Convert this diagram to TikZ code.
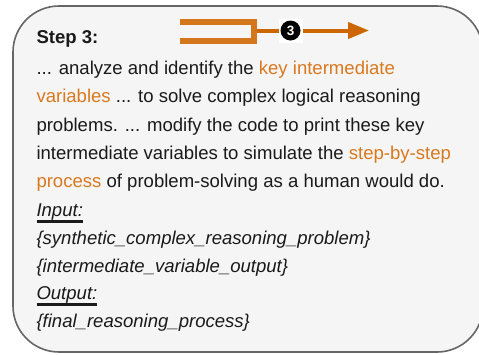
\documentclass[tikz,border=0pt]{standalone}
\usepackage{fontspec}
\setmainfont{Liberation Sans}
\usetikzlibrary{arrows.meta}
\definecolor{boxfill}{HTML}{F5F5F5}
\definecolor{boxline}{HTML}{666666}
\definecolor{arrowc}{HTML}{CC6600}
\definecolor{bracketc}{HTML}{D4761C}
\definecolor{hl}{HTML}{D9791E}
\definecolor{txt}{HTML}{1A1A1A}
\newcommand{\hlt}[1]{\textcolor{hl}{#1}}
\begin{document}
\begin{tikzpicture}[x=1bp,y=-1bp,
  txtline/.style={anchor=base west, inner sep=0pt, outer sep=0pt, text=txt,
    font=\fontsize{18.55bp}{28bp}\selectfont},
  itline/.style={txtline, font=\fontsize{18.55bp}{28bp}\selectfont\itshape},
  uline/.style={txt, line width=2.8bp},
  panel/.style={fill=boxfill, draw=boxline, line width=1.6bp, rounded corners=46bp}]
\useasboundingbox (0,0) rectangle (479,354);
\clip (0,0) rectangle (479,354);
\draw[panel] (13,6) rectangle (483,352);
% bracket and arrow
\draw[bracketc, line width=6bp, miter limit=10] (180,21.5) -- (254,21.5) -- (254,41) -- (180,41);
\coordinate (bra) at (257,30.5);
\coordinate (tip) at (369,30.5);
\draw[arrowc, line width=4bp, -{Triangle[length=21bp,width=16bp]}] (bra) -- (tip);
\node[fill=white, minimum size=24bp, inner sep=0pt] (lab) at (290.5,30.5) {};
\node[circle, fill=black, text=white, minimum size=20bp, inner sep=0pt,
  font=\bfseries\fontsize{13.5bp}{13.5bp}\selectfont] (num) at (lab) {3};
% text
\node[txtline, font=\fontsize{18.55bp}{28bp}\selectfont\bfseries] (title) at (36.5,43) {Step 3:};
\node[txtline] (l1) at (36.5,74) {... analyze and identify the \hlt{key intermediate}};
\node[txtline] (l2) at (36.5,102.5) {\hlt{variables} ... to solve complex logical reasoning};
\node[txtline] (l3) at (36.5,131) {problems. ... modify the code to print these key};
\node[txtline] (l4) at (36.5,159.5) {intermediate variables to simulate the \hlt{step-by-step}};
\node[txtline] (l5) at (36.5,187.5) {\hlt{process} of problem-solving as a human would do.};
\node[itline] (in) at (36.5,216.5) {Input:};
\draw[uline] ([yshift=-5bp]in.base west) -- ([yshift=-5bp]in.base east);
\node[itline] (i1) at (36.5,244) {\{synthetic\_complex\_reasoning\_problem\}};
\node[itline] (i2) at (36.5,272) {\{intermediate\_variable\_output\}};
\node[itline] (out) at (36.5,299.5) {Output:};
\draw[uline] ([yshift=-5bp]out.base west) -- ([yshift=-5bp]out.base east);
\node[itline] (o1) at (36.5,327) {\{final\_reasoning\_process\}};
\end{tikzpicture}
\end{document}
